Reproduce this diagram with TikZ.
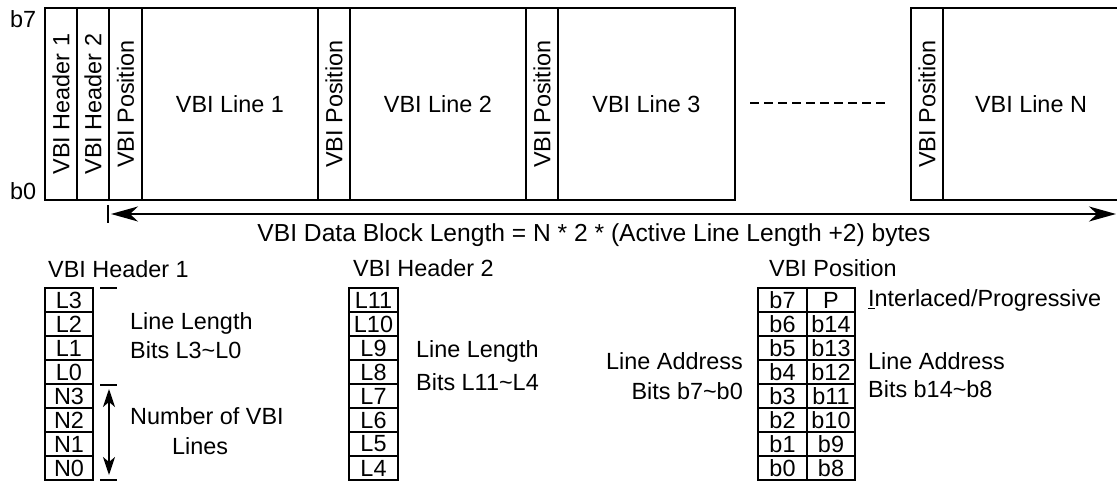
\documentclass[tikz,border=0pt]{standalone}
\usepackage{fontspec}
\setmainfont{Liberation Sans}
\usetikzlibrary{arrows.meta}
\tikzset{
  bigtip/.tip={Stealth[length=27bp,width=15bp,inset=8bp]},
  smalltip/.tip={Stealth[length=18bp,width=12bp,inset=5bp]},
}
\begin{document}
\begin{tikzpicture}[x=1bp,y=-1bp,
  every node/.style={font=\fontsize{23.5}{28}\selectfont, inner sep=0pt},
  blk/.style={draw, line width=1.7bp, minimum height=192bp},
  vblk/.style={draw, line width=1.7bp, rotate=90, minimum width=192bp},
  cellbox/.style={draw, line width=1.5bp, minimum height=24bp},
  lbl/.style={anchor=base west},
  rlbl/.style={anchor=base east},
]
\useasboundingbox (0,0) rectangle (1117,482);

% top data block
\node[vblk, minimum height=32bp] (h1) at (61,104) {VBI Header 1};
\node[vblk, minimum height=32bp] (h2) at (93,104) {VBI Header 2};
\node[vblk, minimum height=33bp] (p1) at (125.5,104) {VBI Position};
\node[blk, minimum width=176bp] (l1) at (230,104) {VBI Line 1};
\node[vblk, minimum height=32bp] (p2) at (334,104) {VBI Position};
\node[blk, minimum width=176bp] (l2) at (438,104) {VBI Line 2};
\node[vblk, minimum height=32bp] (p3) at (542,104) {VBI Position};
\node[blk, minimum width=177bp] (l3) at (646.5,104) {VBI Line 3};
\node[vblk, minimum height=32bp] (pn) at (927,104) {VBI Position};
\node[blk, minimum width=176bp] (ln) at (1031,104) {VBI Line N};

\node[lbl] (b7) at (10,28) {b7};
\node[lbl] (b0) at (10,200) {b0};

\coordinate (d1) at (750,103);
\coordinate (d2) at (887,103);
\draw[line width=1.3bp, dash pattern=on 9bp off 5bp] (d1) -- (d2);

% length arrow
\coordinate (tk1) at (108,205);
\coordinate (tk2) at (108,223);
\draw[line width=1.7bp] (tk1) -- (tk2);
\coordinate (aL) at (111,214);
\coordinate (aR) at (1116,214);
\draw[line width=1.7bp, {bigtip}-{bigtip}] (aL) -- (aR);
\node[anchor=base, font=\fontsize{24.7}{28}\selectfont] (len) at (594,242) {VBI Data Block Length = N * 2 * (Active Line Length +2) bytes};

% VBI Header 1 table
\node[lbl] (t1) at (48,278) {VBI Header 1};
\foreach \t [count=\i from 0] in {L3,L2,L1,L0,N3,N2,N1,N0}
  \node[cellbox, minimum width=48bp] (a\i) at (69,{300+24*\i}) {\t};
\coordinate (k1a) at (100,288); \coordinate (k1b) at (117,288);
\coordinate (k2a) at (100,385); \coordinate (k2b) at (117,385);
\coordinate (k3a) at (100,480); \coordinate (k3b) at (117,480);
\draw[line width=1.5bp] (k1a) -- (k1b) (k2a) -- (k2b) (k3a) -- (k3b);
\coordinate (n1) at (109,389);
\coordinate (n2) at (109,475);
\draw[line width=1.5bp, {smalltip}-{smalltip}] (n1) -- (n2);
\node[lbl] (ll1) at (130,330) {Line Length};
\node[lbl] (ll2) at (130,359) {Bits L3\textasciitilde L0};
\node[lbl] (nv1) at (130,424) {Number of VBI};
\node[lbl] (nv2) at (172,454) {Lines};

% VBI Header 2 table
\node[lbl] (t2) at (353,277) {VBI Header 2};
\foreach \t [count=\i from 0] in {L11,L10,L9,L8,L7,L6,L5,L4}
  \node[cellbox, minimum width=49bp] (b\i) at (373.5,{300+24*\i}) {\t};
\node[lbl] (lm1) at (416,358) {Line Length};
\node[lbl] (lm2) at (416,390) {Bits L11\textasciitilde L4};

% VBI Position table
\node[lbl] (t3) at (769,277) {VBI Position};
\foreach \u/\v [count=\i from 0] in {b7/P,b6/b14,b5/b13,b4/b12,b3/b11,b2/b10,b1/b9,b0/b8}{
  \node[cellbox, minimum width=49bp] (c\i) at (782.5,{300+24*\i}) {\u};
  \node[cellbox, minimum width=48bp] (e\i) at (831,{300+24*\i}) {\v};
}
\node[rlbl] (la1) at (743,370) {Line Address};
\node[rlbl] (la2) at (743,399) {Bits b7\textasciitilde b0};
\node[lbl] (ip) at (868,307) {\underline{I}nterlaced/Progressive};
\node[lbl] (ra1) at (868,370) {Line Address};
\node[lbl] (ra2) at (868,397) {Bits b14\textasciitilde b8};
\end{tikzpicture}
\end{document}
